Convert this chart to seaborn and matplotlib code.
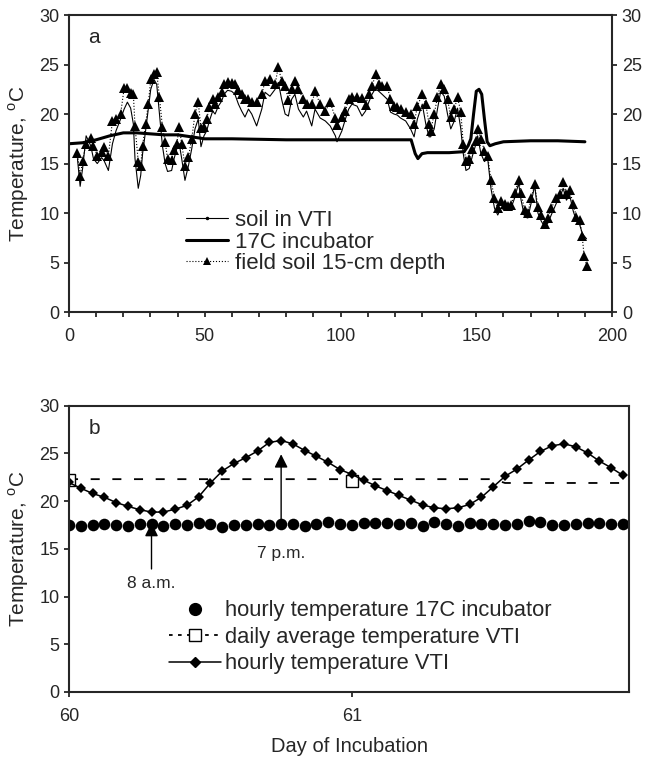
import numpy as np
import pandas as pd
import seaborn as sns
import matplotlib.pyplot as plt
from matplotlib.lines import Line2D

# panel a: daily temperatures
field_days = [3.1, 4.1, 5.0, 6.3, 8.0, 9.0, 10.4, 12.0, 12.9, 14.5, 16.0, 17.3, 19.0, 20.3, 21.5, 22.7,
              23.7, 24.3, 25.5, 26.4, 27.1, 28.2, 29.2, 30.1, 31.3, 32.3, 33.3, 34.4, 35.4, 36.3, 37.8,
              38.7, 39.7, 40.6, 41.5, 42.7, 44.0, 45.2, 46.4, 47.6, 48.6, 49.7, 50.7, 51.7, 52.9, 53.8,
              55.0, 56.2, 57.1, 58.4, 59.9, 61.1, 62.4, 63.6, 64.8, 66.1, 67.3, 69.1, 71.0, 72.2, 74.0,
              75.9, 77.1, 78.3, 79.6, 80.8, 82.0, 83.2, 84.5, 86.3, 87.5, 89.4, 90.6, 92.5, 94.4, 96.2,
              98.1, 98.7, 100.5, 101.8, 103.0, 104.2, 106.1, 107.9, 109.2, 110.4, 111.6, 112.9, 114.1,
              115.3, 117.2, 118.4, 119.7, 120.9, 122.1, 124.0, 125.8, 127.1, 128.3, 130.1, 131.4, 132.6,
              133.2, 134.5, 135.7, 136.9, 138.2, 139.4, 140.6, 141.9, 143.1, 144.3, 145.2, 146.2, 147.4,
              148.6, 149.9, 150.5, 151.7, 153.0, 154.2, 155.4, 156.7, 157.9, 159.1, 160.4, 161.6, 162.8,
              164.1, 165.6, 166.5, 167.8, 169.0, 170.2, 171.5, 172.7, 173.9, 175.2, 176.4, 177.6, 179.5,
              180.7, 182.0, 183.2, 184.4, 185.7, 186.9, 188.1, 189.0, 189.7, 190.6]
field_temp = [16.1, 13.7, 15.3, 17.0, 17.6, 16.8, 15.8, 16.2, 16.7, 15.8, 19.3, 19.5, 20.0, 22.6, 22.6, 22.1,
              22.0, 18.8, 15.2, 14.8, 16.8, 19.0, 21.0, 23.5, 24.0, 24.2, 21.7, 18.7, 17.2, 15.5, 15.4,
              16.4, 17.0, 18.7, 17.0, 14.8, 15.7, 17.5, 20.0, 21.2, 18.6, 18.7, 19.5, 20.7, 21.5, 21.0,
              21.7, 22.2, 23.0, 23.2, 23.1, 23.0, 22.4, 22.0, 21.5, 21.5, 21.2, 21.2, 22.0, 23.3, 23.5,
              23.0, 24.8, 23.3, 22.8, 21.4, 22.5, 23.3, 22.5, 21.5, 21.0, 21.0, 22.3, 21.0, 20.3, 21.2,
              19.6, 18.9, 19.7, 20.3, 21.5, 21.7, 21.7, 21.6, 20.9, 22.0, 22.8, 24.0, 23.0,
              22.8, 22.8, 21.5, 20.8, 20.7, 20.5, 20.2, 20.0, 19.0, 20.8, 22.0, 21.0, 19.0,
              18.3, 20.0, 21.7, 23.0, 22.5, 21.5, 19.7, 20.5, 21.7, 20.2, 17.0, 15.3, 15.5,
              16.5, 17.3, 18.5, 17.5, 16.3, 15.8, 13.3, 11.5, 10.5, 11.2, 10.9, 10.7, 10.8,
              12.0, 13.3, 12.0, 10.3, 10.0, 11.5, 12.9, 10.6, 9.8, 8.9, 9.5, 10.5, 11.5,
              11.9, 13.1, 11.9, 12.3, 10.9, 9.6, 9.3, 7.7, 5.7, 4.7]
vti_temp = [15.5, 12.7, 14.5, 17.8, 16.8, 15.5, 15.0, 15.6, 15.3, 14.3, 17.0, 18.3, 19.5, 20.5, 21.2, 20.6,
            19.0, 15.5, 12.5, 13.8, 16.0, 18.3, 20.5, 22.5, 23.5, 23.0, 20.0, 16.8, 15.0, 14.2, 14.3,
            15.5, 16.5, 17.0, 15.5, 13.3, 14.8, 16.5, 18.5, 19.5, 16.7, 17.8, 18.3, 19.3, 20.3, 20.0,
            20.8, 21.3, 22.0, 22.4, 22.3, 22.0, 21.0, 20.3, 19.7, 20.5, 20.0, 18.8, 20.5, 22.2, 21.8,
            22.5, 23.2, 21.5, 20.0, 19.8, 21.5, 22.0, 20.5, 19.7, 20.3, 18.8, 20.5, 19.6, 19.3, 18.8,
            17.8, 17.2, 18.3, 19.5, 20.5, 21.0, 20.8, 19.8, 20.3, 21.2, 22.0, 22.6, 22.3,
            22.0, 21.5, 20.2, 20.0, 19.9, 19.6, 19.3, 18.5, 17.7, 19.5, 21.0, 19.0, 17.7,
            17.7, 18.5, 20.5, 22.3, 21.8, 20.0, 18.5, 19.3, 20.6, 18.5, 16.0, 14.3, 14.5,
            15.8, 17.0, 17.8, 16.0, 15.2, 15.5, 12.5, 10.5, 9.8, 10.5, 10.3, 10.5, 10.5,
            11.5, 13.0, 11.3, 9.6, 9.5, 11.0, 12.8, 10.0, 9.2, 8.6, 9.0, 9.8, 11.0,
            11.5, 12.5, 11.3, 11.8, 10.2, 9.2, 8.8, 8.0, 7.7, 7.4]
incub_days = [0, 5, 10, 15, 20, 25, 30, 35, 40, 45, 50, 60, 80, 100, 110, 126, 127.5, 128.5, 130, 132,
              140, 145.5, 147, 148, 149, 150, 151, 152, 153, 154, 155, 157, 160, 170, 180, 190]
incub_temp = [17.0, 17.1, 17.4, 17.8, 18.1, 18.1, 18.0, 17.9, 17.9, 17.7, 17.5, 17.5, 17.4, 17.4, 17.4,
              17.4, 16.0, 15.5, 16.0, 16.1, 16.1, 16.2, 16.8, 17.5, 20.0, 22.3, 22.5, 22.0, 19.5, 17.2,
              16.8, 17.0, 17.2, 17.3, 17.3, 17.2]

# panel b: hourly temperatures on days 60-61
hours = list(range(48))
vti_hourly = [21.95, 21.35, 20.8, 20.4, 19.85, 19.45, 19.1, 18.85, 18.85, 19.15, 19.55, 20.45, 21.9, 23.15,
              23.95, 24.55, 25.25, 26.15, 26.35, 26.0, 25.3, 24.7, 24.05, 23.3, 22.8, 22.2, 21.6, 21.1,
              20.6, 20.1, 19.6, 19.3, 19.2, 19.3, 19.65, 20.4, 21.5, 22.6, 23.35, 24.3, 25.2, 25.8,
              26.0, 25.7, 25.05, 24.2, 23.5, 22.7]
incub_hourly = [17.5, 17.4, 17.5, 17.6, 17.5, 17.4, 17.6, 17.6, 17.4, 17.6, 17.5, 17.7, 17.6, 17.3, 17.5,
                17.5, 17.6, 17.5, 17.6, 17.6, 17.4, 17.6, 17.8, 17.6, 17.5, 17.7, 17.7, 17.7, 17.6, 17.7,
                17.4, 17.8, 17.6, 17.4, 17.7, 17.6, 17.6, 17.5, 17.6, 17.9, 17.8, 17.5, 17.5, 17.6, 17.7,
                17.7, 17.6, 17.6]
avg_hourly = [22.3] * 37 + [21.9] * 11
avg_days = [60, 61]
avg_daily = [22.2, 22.1]
note_hours = [7, 18]
note_labels = ['8 a.m.', '7 p.m.']
note_tip = [18.0, 25.2]
note_tail = [12.6, 16.8]
note_text_y = [11.4, 14.5]

df_a = pd.DataFrame({'day': field_days, 'field': field_temp, 'vti': vti_temp})
df_inc = pd.DataFrame({'day': incub_days, 'temp': incub_temp})
df_b = pd.DataFrame({'hour': hours, 'vti': vti_hourly, 'inc': incub_hourly, 'avg': avg_hourly})
df_b['day'] = 60 + df_b['hour'] / 24

sns.set_style('ticks')
plt.rcParams['font.family'] = ['Liberation Sans', 'DejaVu Sans']
plt.rcParams['axes.linewidth'] = 1.5
plt.rcParams['xtick.major.width'] = 1.3
plt.rcParams['ytick.major.width'] = 1.3
plt.rcParams['xtick.minor.width'] = 1.3

fig = plt.figure(figsize=(6.45, 7.57), dpi=100)
ax1 = fig.add_axes([0.107, 0.5878, 0.8419, 0.3923])
ax2 = fig.add_axes([0.107, 0.0859, 0.8682, 0.3782])

# ---- panel a
sns.lineplot(data=df_a, x='day', y='vti', ax=ax1, color='black', lw=0.8, sort=False, estimator=None)
sns.lineplot(data=df_a, x='day', y='field', ax=ax1, color='black', lw=0.8, ls=':', sort=False,
             estimator=None, marker='^', markersize=7, markeredgewidth=0)
sns.lineplot(data=df_inc, x='day', y='temp', ax=ax1, color='black', lw=2.2, sort=False, estimator=None)

ax1.set_xlim(0, 200)
ax1.set_ylim(0, 30)
ax1.set_xticks(range(0, 201, 50))
ax1.set_xticks(range(0, 201, 10), minor=True)
ax1.set_yticks(range(0, 31, 5))
ax1.tick_params(axis='both', which='both', direction='out', length=3.5, labelsize=13)
ax1.tick_params(axis='x', which='both', pad=8)
ax1.tick_params(axis='y', right=True, labelright=True)
ax1.set_xlabel('')
ax1.set_ylabel('Temperature, $^{\\mathregular{o}}$C', fontsize=15, labelpad=6)
ax1.text(0.035, 0.925, 'a', transform=ax1.transAxes, fontsize=15, va='center')

h_a = [Line2D([], [], color='black', lw=0.8, marker='.', markersize=3),
       Line2D([], [], color='black', lw=2.2),
       Line2D([], [], color='black', lw=0.8, ls=':', marker='^', markersize=6, markeredgewidth=0)]
ax1.legend(h_a, ['soil in VTI', '17C incubator', 'field soil 15-cm depth'], loc='upper left',
           bbox_to_anchor=(0.215, 0.343), frameon=False, fontsize=16, handlelength=1.9,
           handletextpad=0.3, labelspacing=0.02, borderpad=0, borderaxespad=0)

# ---- panel b
sns.lineplot(data=df_b, x='day', y='avg', ax=ax2, color='black', lw=1.3, dashes=False, estimator=None)
ax2.lines[-1].set_dashes((5, 7))
ax2.plot(avg_days, avg_daily, ls='none', marker='s', markersize=9, markerfacecolor='white',
         markeredgecolor='black', markeredgewidth=1)
sns.lineplot(data=df_b, x='day', y='vti', ax=ax2, color='black', lw=1.1, estimator=None,
             marker='D', markersize=5.5, markeredgewidth=0)
sns.scatterplot(data=df_b, x='day', y='inc', ax=ax2, color='black', s=70, marker='o', linewidth=0)

for h, lab, tip, tail, ty in zip(note_hours, note_labels, note_tip, note_tail, note_text_y):
    xd = 60 + h / 24
    ax2.annotate('', xy=(xd, tip), xytext=(xd, tail),
                 arrowprops=dict(arrowstyle='-|>', color='black', lw=1, mutation_scale=20))
    ax2.text(xd, ty, lab, ha='center', va='center', fontsize=12.5)

ax2.set_xlim(60, 61.98)
ax2.set_ylim(0, 30)
ax2.set_xticks([60, 61])
ax2.set_xticklabels(['60', '61'])
ax2.set_yticks(range(0, 31, 5))
ax2.tick_params(axis='both', direction='out', length=3.5, labelsize=13)
ax2.tick_params(axis='x', pad=8)
ax2.set_xlabel('Day of Incubation', fontsize=14.5, labelpad=9)
ax2.set_ylabel('Temperature, $^{\\mathregular{o}}$C', fontsize=15, labelpad=6)
ax2.text(0.035, 0.92, 'b', transform=ax2.transAxes, fontsize=15, va='center')

h_b = [Line2D([], [], color='black', ls='none', marker='o', markersize=8.5),
       Line2D([], [], color='black', lw=1.3, ls=(0, (2, 3)), marker='s', markersize=9,
              markerfacecolor='white', markeredgewidth=1),
       Line2D([], [], color='black', lw=1.1, marker='D', markersize=5.5)]
ax2.legend(h_b, ['hourly temperature 17C incubator', 'daily average temperature VTI',
                 'hourly temperature VTI'], loc='upper left', bbox_to_anchor=(0.178, 0.32),
           frameon=False, fontsize=15.8, handlelength=2.4, handletextpad=0.15, labelspacing=0.25,
           borderpad=0, borderaxespad=0)

fig.savefig('out.png', dpi=100)
